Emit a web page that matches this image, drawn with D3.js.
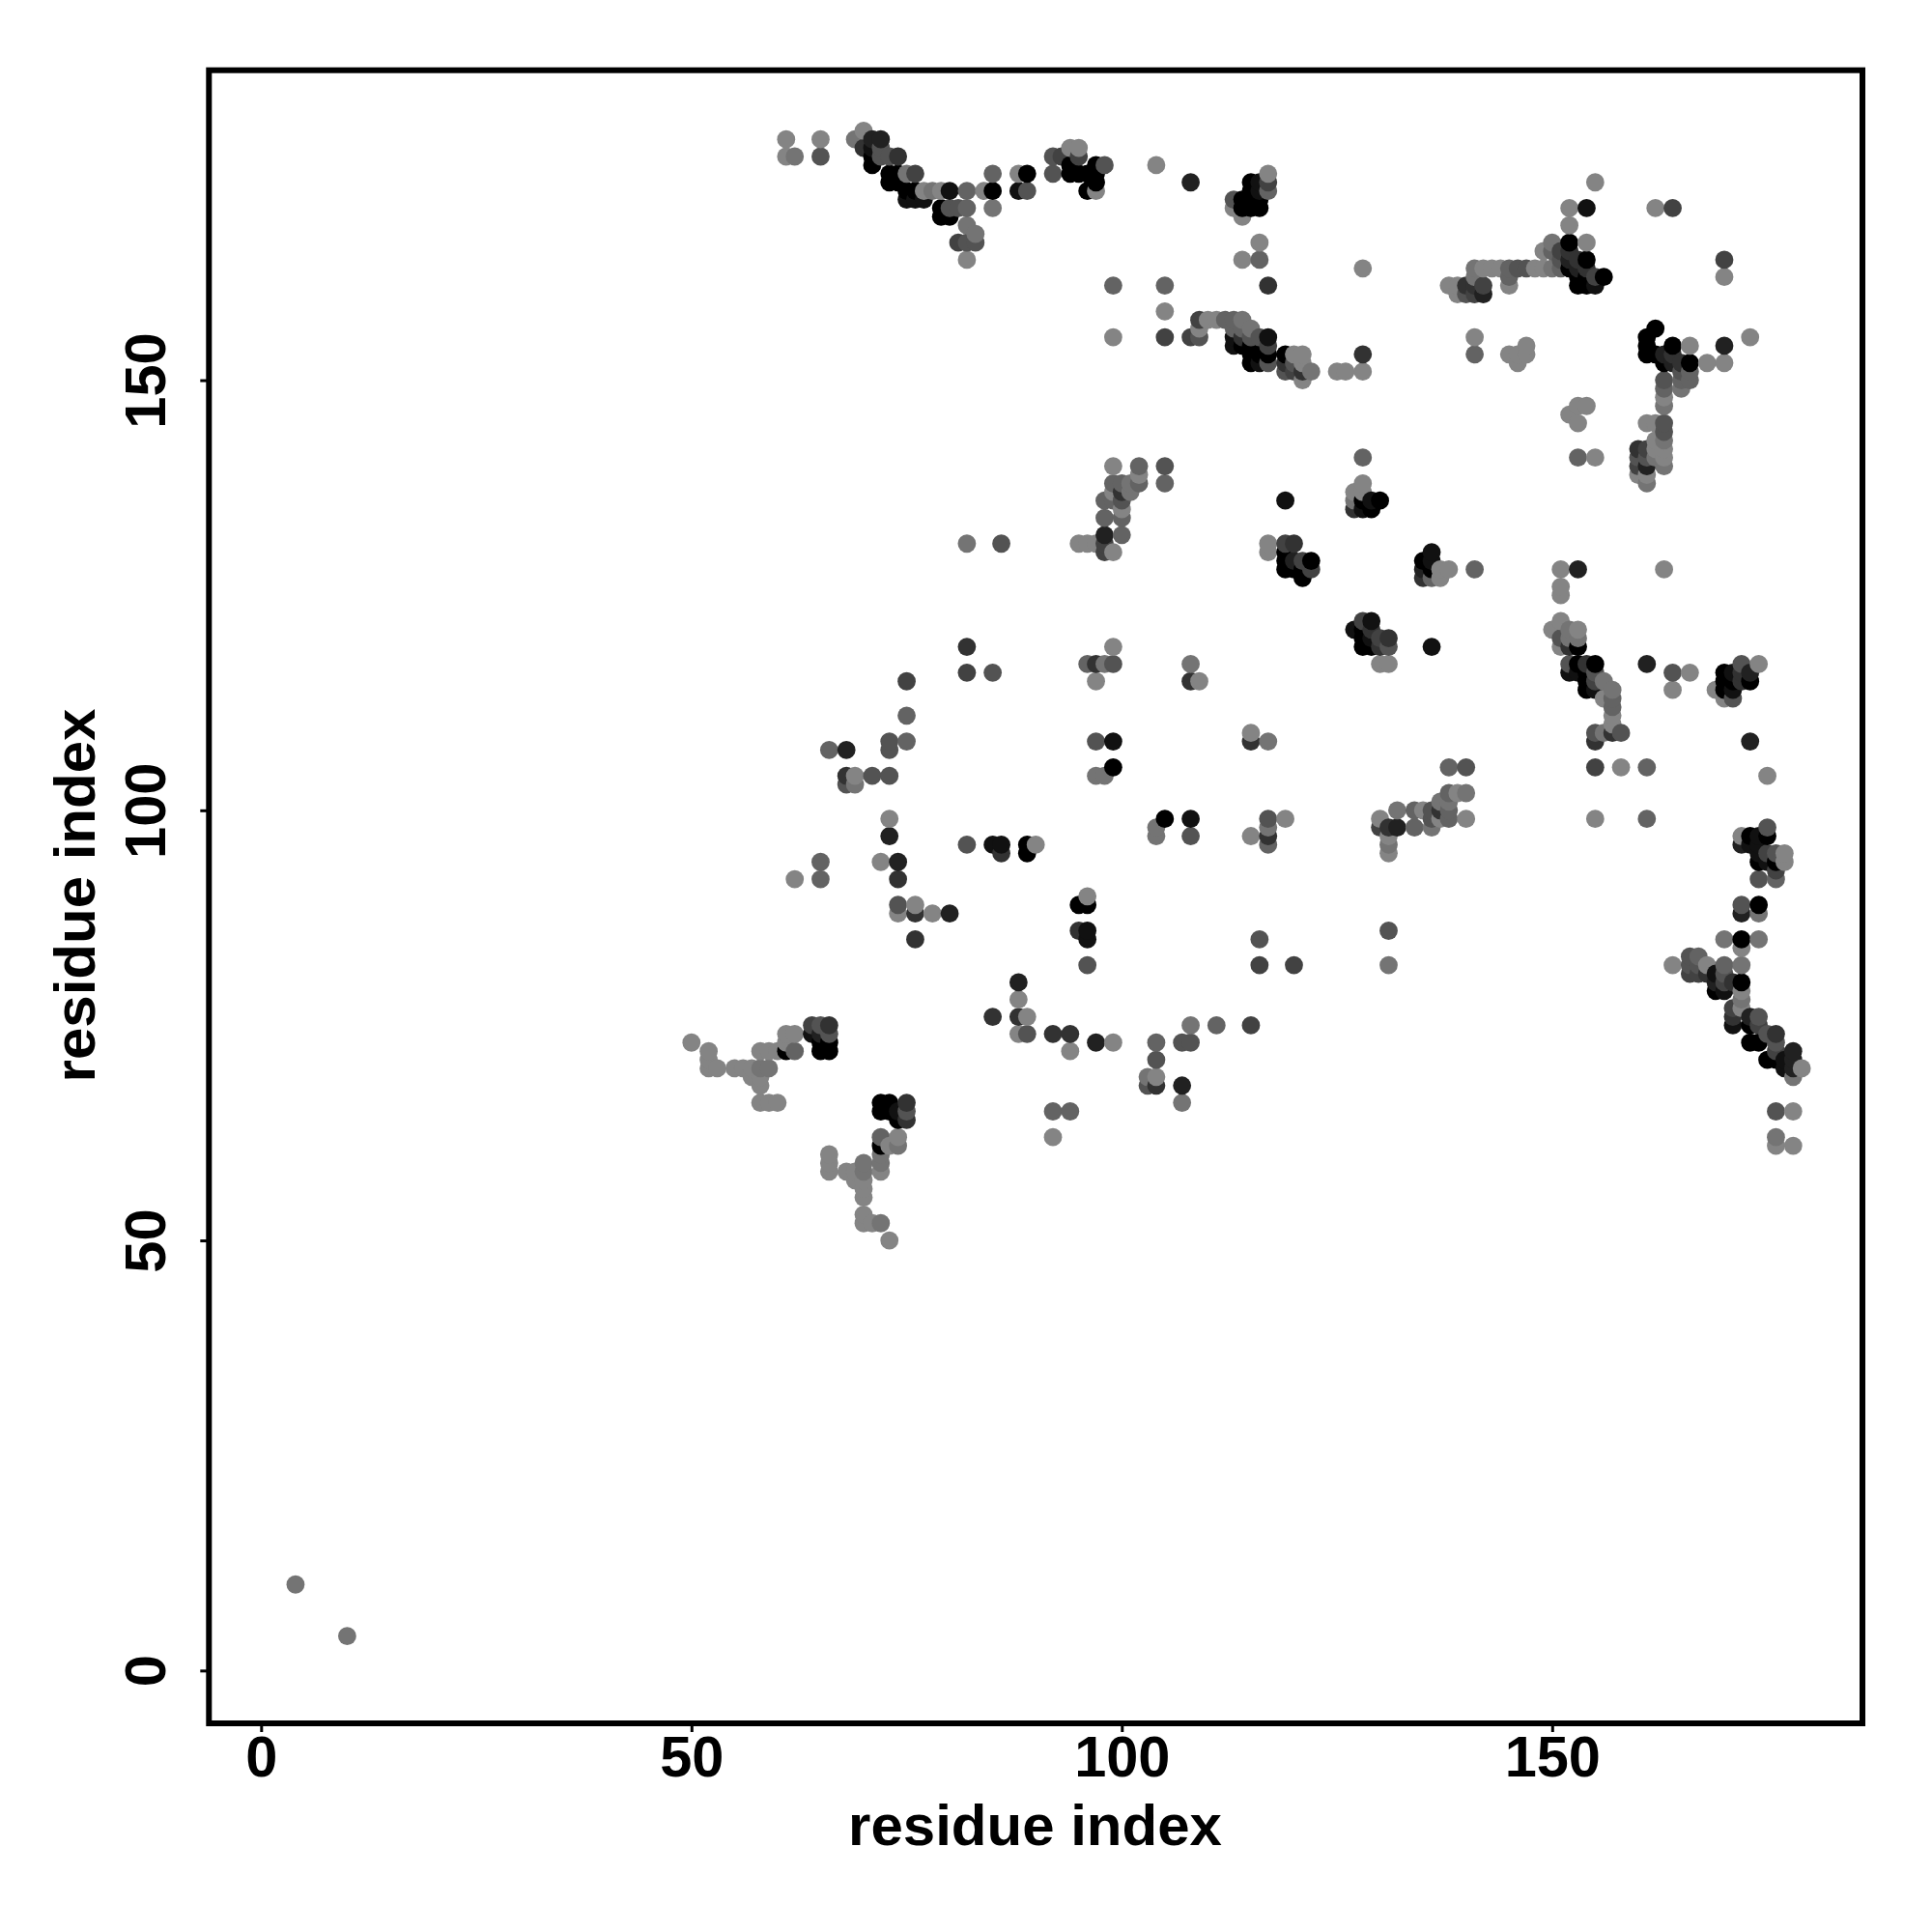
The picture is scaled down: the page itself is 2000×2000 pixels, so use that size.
<!DOCTYPE html>
<html><head><meta charset="utf-8">
<script src="https://cdnjs.cloudflare.com/ajax/libs/d3/7.8.5/d3.min.js"></script>
<style>html,body{margin:0;padding:0;background:#fff}svg{display:block}text{font-family:"Liberation Sans",Arial,sans-serif;font-weight:700;fill:#000}</style>
</head><body><svg id="c" width="2000" height="2000"></svg>
<script>
// Residue contact pairs [x, y], grouped by darkness level (0 = black ... 8 = lightest)
const level0=[[71,176],[71,175],[73,174],[73,173],[74,174],[74,173],[79,169],[80,169],[79,170],[85,172],[89,174],[94,174],[94,175],[95,174],[96,172],[97,173],[97,175],[97,174],[96,174],[114,154],[115,152],[115,153],[115,154],[116,153],[117,153],[114,171],[114,170],[115,170],[116,170],[115,171],[116,171],[115,172],[115,173],[119,153],[152,166],[154,164],[156,162],[152,163],[153,161],[154,161],[153,162],[154,162],[161,155],[161,154],[161,153],[162,156],[164,154],[166,152],[162,153],[163,152],[130,136],[129,135],[128,136],[119,130],[119,129],[119,128],[120,128],[121,128],[121,127],[122,129],[135,129],[136,128],[128,121],[128,119],[129,119],[128,120],[153,119],[153,117],[155,117],[154,116],[154,115],[154,114],[170,116],[170,115],[170,114],[171,115],[173,115],[173,97],[175,97],[174,89],[172,85],[172,80],[173,75],[173,73],[174,73],[175,71],[176,71],[174,94],[176,94],[169,79],[72,61],[61,72],[65,73],[66,73],[65,72],[66,72],[72,66],[73,66],[72,65],[73,65],[74,64],[99,105],[105,99],[89,96],[89,95],[95,89],[96,89],[75,172],[76,172]];
const level1=[[75,171],[76,171],[77,171],[80,172],[88,172],[71,177],[116,172],[116,173],[117,155],[116,152],[154,170],[155,161],[129,122],[127,121],[129,120],[129,136],[128,135],[119,136],[136,130],[136,129],[136,119],[99,108],[108,99],[85,96],[86,96],[96,86],[96,85],[152,116],[153,116],[155,114],[171,116],[171,114],[173,96],[174,96],[174,97],[174,95],[175,94],[170,79],[169,81],[171,75],[177,71],[177,70],[64,74],[74,65],[113,155],[113,154]];
const level2=[[71,178],[72,178],[108,173],[142,160],[170,154],[152,164],[153,163],[163,153],[164,152],[161,140],[120,129],[135,128],[153,128],[161,117],[173,116],[173,108],[68,107],[73,97],[74,94],[80,88],[88,80],[97,73],[107,68],[132,98],[172,88],[169,80],[173,76],[178,72],[178,71],[178,70],[65,74],[172,96],[98,132]];
const level3=[[70,177],[74,176],[114,155],[117,161],[128,153],[121,151],[119,152],[164,153],[165,152],[140,161],[141,161],[152,165],[153,164],[154,163],[160,142],[120,131],[127,135],[100,137],[135,127],[130,119],[129,121],[131,120],[97,117],[108,115],[154,117],[152,119],[155,108],[157,109],[172,116],[172,115],[68,104],[74,92],[76,88],[76,85],[86,95],[95,86],[88,76],[85,76],[92,74],[94,74],[104,68],[137,100],[131,98],[115,108],[117,97],[168,81],[171,80],[171,76],[176,74],[66,75],[75,64],[75,66],[82,119]];
const level4=[[76,174],[81,166],[93,176],[95,176],[105,155],[108,155],[109,157],[117,154],[117,173],[164,170],[170,164],[120,151],[142,161],[141,160],[151,165],[155,162],[161,142],[160,140],[98,131],[98,130],[119,131],[121,129],[122,128],[130,120],[128,122],[75,115],[82,116],[130,98],[155,105],[155,115],[175,95],[176,93],[176,72],[174,75],[171,77],[166,81],[167,81],[170,80],[116,82],[120,82],[115,75],[64,75]];
const level5=[[65,176],[72,177],[72,176],[73,176],[80,170],[81,170],[82,166],[83,166],[89,172],[92,176],[92,174],[98,175],[109,155],[113,171],[115,155],[116,155],[117,152],[120,152],[119,151],[146,163],[147,163],[151,164],[165,151],[163,150],[163,145],[163,144],[161,141],[160,141],[140,160],[105,140],[86,131],[100,136],[99,117],[131,119],[151,120],[155,116],[152,117],[155,109],[158,109],[164,116],[172,117],[171,113],[175,98],[176,95],[174,92],[176,65],[172,89],[166,83],[166,82],[167,82],[170,81],[174,76],[175,74],[176,73],[85,116],[73,108],[73,107],[68,103],[71,104],[73,104],[82,96],[74,89],[96,82],[97,108],[108,97],[117,99],[116,85],[131,86],[140,105],[136,100],[136,99],[104,71],[107,73],[108,73],[103,68],[65,75],[66,74],[75,65],[89,74]];
const level6=[[82,172],[82,170],[85,174],[99,161],[105,161],[112,157],[113,157],[114,156],[113,156],[116,164],[141,153],[145,163],[145,162],[150,165],[151,163],[153,141],[165,150],[166,151],[166,150],[163,149],[128,141],[102,140],[105,138],[102,138],[99,138],[100,138],[98,136],[99,136],[98,134],[100,134],[100,132],[96,117],[141,128],[136,127],[157,113],[157,112],[161,105],[161,99],[176,92],[170,82],[167,83],[117,96],[66,107],[75,111],[75,108],[65,94],[65,92],[92,65],[94,65],[104,73],[111,75],[138,105],[138,102],[134,100],[138,100],[138,99],[134,98],[62,72],[72,62],[117,172]];
const level7=[[69,178],[62,176],[78,172],[75,174],[85,170],[82,168],[83,167],[115,156],[114,157],[122,151],[141,163],[141,162],[150,166],[150,163],[161,138],[162,141],[163,147],[163,143],[163,140],[165,149],[101,138],[101,137],[127,136],[152,120],[153,120],[152,121],[156,115],[157,114],[156,109],[98,104],[97,104],[69,103],[117,108],[117,98],[104,98],[104,97],[108,117],[98,117],[108,75],[103,69],[107,66],[132,100],[137,101],[138,101],[140,102],[131,96],[136,98],[131,82],[58,70],[59,70],[72,60],[72,59],[72,52],[74,61],[70,59],[70,58],[170,85],[174,85],[172,82],[174,88],[172,78],[178,69],[176,62],[4,10],[10,4],[82,131]];
const level8=[[61,178],[61,176],[65,178],[70,179],[77,172],[79,172],[82,164],[84,172],[88,174],[94,177],[95,177],[97,172],[104,175],[99,155],[105,158],[109,156],[110,157],[111,157],[113,170],[114,169],[116,166],[114,164],[117,174],[128,163],[120,153],[121,153],[121,152],[121,150],[125,151],[126,151],[128,151],[138,161],[139,161],[139,160],[142,163],[143,163],[144,163],[148,163],[149,163],[145,161],[149,165],[141,155],[145,153],[147,154],[146,152],[146,153],[147,153],[152,170],[152,168],[154,166],[155,173],[162,170],[170,162],[173,155],[168,152],[170,152],[166,154],[152,146],[153,147],[154,147],[153,145],[155,141],[162,145],[161,145],[162,143],[162,142],[163,148],[163,142],[163,141],[161,139],[160,139],[99,140],[102,139],[99,137],[100,135],[95,131],[96,131],[97,131],[99,130],[128,138],[127,137],[128,137],[117,131],[117,130],[137,128],[138,128],[137,127],[130,117],[131,117],[99,119],[97,115],[109,115],[151,128],[163,128],[151,126],[151,125],[151,122],[150,121],[153,121],[151,119],[156,113],[157,111],[157,110],[155,99],[158,105],[166,116],[164,114],[174,117],[169,114],[170,113],[175,104],[172,97],[177,95],[177,94],[172,84],[164,82],[168,82],[172,79],[172,77],[179,70],[178,65],[176,61],[178,61],[69,104],[73,99],[72,94],[62,92],[74,88],[76,89],[78,88],[90,96],[96,90],[88,78],[89,76],[88,74],[94,72],[99,73],[104,69],[92,62],[115,109],[119,99],[115,97],[135,100],[139,102],[137,99],[140,99],[130,99],[131,97],[131,95],[50,73],[52,72],[52,71],[52,70],[53,70],[55,70],[56,70],[57,70],[57,69],[58,69],[58,68],[58,66],[59,66],[60,66],[58,72],[59,72],[60,72],[61,74],[62,74],[61,73],[74,62],[73,61],[72,58],[66,60],[66,59],[66,58],[68,58],[69,58],[69,57],[70,57],[70,56],[70,55],[70,53],[70,52],[71,52],[73,50]];
const levels=[level0,level1,level2,level3,level4,level5,level6,level7,level8];
const tickValues=[0,50,100,150];
const axisTitle="residue index";

const contacts=levels.flatMap((pts,v)=>pts.map(([i,j])=>({i,j,v})));
contacts.sort((a,b)=>a.i-b.i||a.j-b.j);

const left=216.3,right=1928,top_=72.7,bottom=1784;
const x=d3.scaleLinear().domain([-6.06,186.05]).range([left,right]);
const y=d3.scaleLinear().domain([-6.14,186.03]).range([bottom,top_]);
const grey=d3.scaleLinear().domain([0,8]).range(["#000000","#848484"]);

const svg=d3.select("#c");
svg.append("rect").attr("width",2000).attr("height",2000).attr("fill","#fff");
svg.append("g").selectAll("circle").data(contacts).join("circle")
  .attr("cx",d=>x(d.i)).attr("cy",d=>y(d.j)).attr("r",9.4).attr("fill",d=>grey(d.v));
svg.append("rect").attr("x",left).attr("y",top_).attr("width",right-left).attr("height",bottom-top_)
  .attr("fill","none").attr("stroke","#000").attr("stroke-width",6);

const fmt=d3.format("d");
const gx=svg.append("g").attr("transform",`translate(0,${bottom})`)
  .call(d3.axisBottom(x).tickValues(tickValues).tickFormat(fmt).tickSize(9).tickPadding(0));
gx.select(".domain").remove();
gx.selectAll("line").attr("stroke","#000").attr("stroke-width",3);
gx.selectAll("text").attr("y",55).attr("dy",0).attr("font-size",59.5).style("font-family",'"Liberation Sans"').style("font-weight",700);

const gy=svg.append("g").attr("transform",`translate(${left},0)`)
  .call(d3.axisLeft(y).tickValues(tickValues).tickFormat(fmt).tickSize(9).tickPadding(0));
gy.select(".domain").remove();
gy.selectAll("line").attr("stroke","#000").attr("stroke-width",3);
gy.selectAll("text").attr("x",0).attr("y",0).attr("dy",0).attr("text-anchor","middle")
  .attr("transform","translate(-45,0) rotate(-90)")
  .attr("font-size",59.5).style("font-family",'"Liberation Sans"').style("font-weight",700);

svg.append("text").attr("x",1071.5).attr("y",1910).attr("text-anchor","middle").attr("font-size",60).text(axisTitle);
svg.append("text").attr("transform","translate(98,927) rotate(-90)").attr("text-anchor","middle").attr("font-size",60).text(axisTitle);
</script></body></html>
